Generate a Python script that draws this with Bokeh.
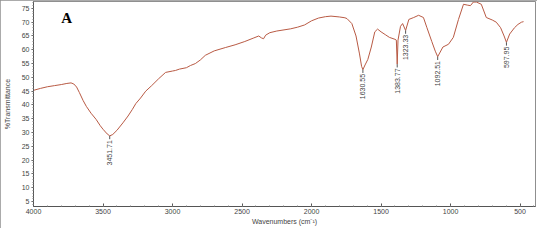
import numpy as np
from bokeh.plotting import figure
from bokeh.models import Range1d, Label, ColumnDataSource, FixedTicker
from bokeh.core.properties import value
from bokeh.embed import file_html
from bokeh.resources import INLINE

# Spectrum (wavenumber cm-1, % transmittance)
wavenumber = [4000, 3950, 3900, 3850, 3800, 3760, 3730, 3710, 3690, 3670, 3643, 3620,
              3586, 3550, 3520, 3500, 3470, 3451.71, 3430, 3400, 3357, 3320, 3290, 3264,
              3230, 3193, 3150, 3100, 3050, 3000, 2979, 2950, 2900, 2871, 2836, 2800,
              2764, 2700, 2620, 2550, 2480, 2420, 2380, 2360, 2345, 2330, 2300, 2250,
              2150, 2100, 2050, 2000, 1950, 1900, 1860, 1800, 1760, 1745, 1710, 1680,
              1655, 1640, 1630.55, 1615, 1595, 1570, 1545, 1525, 1500, 1470, 1440, 1400,
              1390, 1383.77, 1378, 1360, 1345, 1323.33, 1300, 1265, 1230, 1195, 1170,
              1135, 1110, 1092.51, 1055, 1015, 980, 943, 907, 880, 857, 836, 814, 779,
              743, 700, 671, 640, 615, 597.95, 575, 540, 515, 490, 475]
transmittance = [45.3, 46.0, 46.6, 47.0, 47.4, 47.8, 48.0, 47.6, 46.5, 44.5, 41.6, 39.5,
                 37.0, 34.8, 32.5, 31.2, 29.5, 28.8, 29.3, 30.8, 33.5, 36.0, 38.3, 40.5,
                 42.5, 45.0, 47.0, 49.5, 51.8, 52.3, 52.5, 53.0, 53.5, 54.3, 55.0, 56.3,
                 58.0, 59.6, 60.8, 61.8, 63.0, 64.2, 65.0, 64.3, 64.0, 65.3, 66.2, 66.8,
                 67.6, 68.2, 69.0, 70.5, 71.5, 72.0, 72.2, 71.9, 71.6, 71.3, 69.5, 65.0,
                 58.5, 54.0, 52.8, 54.5, 56.5, 61.0, 66.5, 67.5, 66.5, 65.5, 64.5, 63.8,
                 63.5, 54.8, 63.5, 68.5, 69.5, 67.0, 71.0, 71.7, 72.5, 71.7, 68.0,
                 63.0, 59.5, 57.5, 61.0, 62.0, 64.5, 71.0, 76.5, 76.2, 76.0, 77.3, 77.3, 76.5,
                 71.7, 70.8, 70.0, 68.0, 65.0, 62.7, 65.7, 68.0, 69.2, 70.0, 70.2]

peak_wn = [3451.71, 1630.55, 1383.77, 1323.33, 1092.51, 597.95]
peak_t = [28.8, 52.8, 54.8, 67.0, 57.5, 62.7]
peak_labels = ["3451.71", "1630.55", "1383.77", "1323.33", "1092.51", "597.95"]

y_ticks = list(range(5, 80, 5))
y_minor = list(range(4, 78, 1))
x_ticks = [4000, 3500, 3000, 2500, 2000, 1500, 1000, 500]
x_minor = list(range(400, 4001, 100))

FONT = "Liberation Sans"
GREY = "#555555"

p = figure(width=537, height=228, output_backend="svg", toolbar_location=None,
           x_range=Range1d(4000, 389), y_range=Range1d(3.2, 77.5),
           min_border_left=29, min_border_right=2, min_border_top=1, min_border_bottom=22,
           background_fill_color="white", border_fill_color="white")
p.styles = {"outline": "2px solid #8f8f8f", "outline-offset": "-2px"}
p.outline_line_color = "#8f8f8f"
p.outline_line_width = 1
p.xgrid.visible = False
p.ygrid.visible = False

p.line(wavenumber, transmittance, line_color="#b85a44", line_width=1)

# peak markers and labels
seg_src = ColumnDataSource(dict(x=peak_wn, y0=peak_t, y1=[v - 1.2 for v in peak_t], t=peak_labels))
p.segment(x0="x", y0="y0", x1="x", y1="y1", source=seg_src, line_color="#555555", line_width=1)
p.text(x="x", y="y1", text="t", source=seg_src, angle=np.pi / 2, text_align="right",
       text_baseline="middle", y_offset=1, text_font=value(FONT), text_font_size="7px",
       text_color="#444444")

p.add_layout(Label(x=3800, y=68.5, text="A", text_font="Liberation Serif",
                   text_font_style="bold", text_font_size="15px", text_color="black"))

# axes
p.xaxis.ticker = FixedTicker(ticks=x_ticks, minor_ticks=x_minor)
p.xaxis.axis_label = "Wavenumbers (cm⁻¹)"
p.yaxis.ticker = FixedTicker(ticks=y_ticks, minor_ticks=y_minor)
p.yaxis.axis_label = "%Transmittance"
for ax in (p.xaxis[0], p.yaxis[0]):
    ax.axis_line_color = GREY
    ax.major_tick_line_color = GREY
    ax.minor_tick_line_color = "#888888"
    ax.major_label_text_font = FONT
    ax.major_label_text_font_size = "7px"
    ax.major_label_text_color = "#444444"
    ax.axis_label_text_font = FONT
    ax.axis_label_text_font_size = "7px"
    ax.axis_label_text_font_style = "normal"
    ax.axis_label_text_color = "#444444"

p.xaxis.major_tick_in = 3
p.xaxis.major_tick_out = 0
p.xaxis.minor_tick_in = 1
p.xaxis.minor_tick_out = 0
p.xaxis.major_label_standoff = 2
p.xaxis.axis_label_standoff = 1

p.yaxis.major_tick_in = 0
p.yaxis.major_tick_out = 2
p.yaxis.minor_tick_in = 0
p.yaxis.minor_tick_out = 1
p.yaxis.major_label_standoff = 2
p.yaxis.axis_label_standoff = 8

open("out.html", "w").write(file_html(p, INLINE))
